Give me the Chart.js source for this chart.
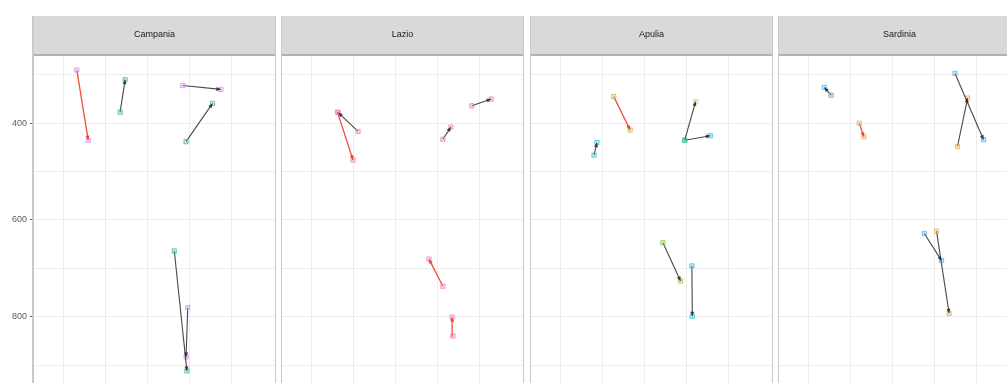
<!DOCTYPE html>
<html>
<head>
<meta charset="utf-8">
<script src="https://cdn.jsdelivr.net/npm/chart.js@4/dist/chart.umd.min.js"></script>
<style>
  html, body { margin: 0; padding: 0; background: #fff; width: 1007px; height: 383px; overflow: hidden; }
  canvas { position: absolute; top: 0; }
</style>
</head>
<body>
<script>
// Facet labels
const regions = ['Campania', 'Lazio', 'Apulia', 'Sardinia'];

// Axis breaks
const yTickLabels = [400, 600, 800];
const yGridValues = [300, 400, 500, 600, 700, 800, 900];
const xGridValues = [1, 2, 3, 4, 5];

// Segment start / end coordinates, one row per facet
const fromX = [
  [1.33, 2.36, 3.85, 3.93, 3.65, 3.97],
  [1.63, 2.12, 4.14, 4.83, 4.14, 4.38],
  [2.28, 1.81, 3.97, 3.97, 3.45, 4.14],
  [1.55, 2.22, 4.50, 4.56, 3.77, 4.06]
];
const fromY = [
  [290, 377, 322, 438, 664, 781],
  [377, 417, 433, 364, 737, 840],
  [345, 466, 435, 435, 647, 695],
  [342, 400, 297, 448, 628, 623]
];
const toX = [
  [1.60, 2.48, 4.76, 4.56, 3.95, 3.93],
  [2.00, 1.65, 4.33, 5.29, 3.81, 4.36],
  [2.67, 1.88, 4.23, 4.58, 3.87, 4.15],
  [1.39, 2.33, 5.18, 4.80, 4.18, 4.36]
];
const toY = [
  [435, 310, 330, 359, 912, 883],
  [476, 378, 408, 350, 681, 801],
  [414, 440, 355, 426, 726, 799],
  [326, 428, 434, 348, 684, 793]
];

// Marker group at each end, and the segment direction class
const startGroup = [
  ['violet', 'green', 'violet', 'green', 'green', 'violet'],
  ['pink', 'pink', 'pink', 'pink', 'pink', 'pink'],
  ['olive', 'teal', 'green', 'teal', 'lime', 'teal'],
  ['blue', 'orange', 'blue', 'orange', 'blue', 'orange']
];
const endGroup = [
  ['violet', 'green', 'violet', 'green', 'green', 'violet'],
  ['pink', 'pink', 'pink', 'pink', 'pink', 'pink'],
  ['olive', 'teal', 'yellow', 'teal', 'lime', 'teal'],
  ['blue', 'orange', 'blue', 'orange', 'blue', 'orange']
];
const segmentKind = [
  ['up', 'down', 'down', 'down', 'down', 'down'],
  ['up', 'down', 'down', 'down', 'up', 'up'],
  ['up', 'down', 'down', 'down', 'down', 'down'],
  ['down', 'up', 'down', 'down', 'down', 'down']
];

const groupColors = {
  violet: [214, 140, 235],
  green:  [70, 192, 135],
  pink:   [240, 125, 195],
  olive:  [205, 185, 70],
  yellow: [222, 210, 95],
  teal:   [60, 190, 215],
  lime:   [145, 195, 70],
  blue:   [80, 175, 238],
  orange: [232, 172, 78]
};
const kindColors = { up: 'rgba(240,62,40,0.92)', down: 'rgba(40,40,40,0.85)' };

const rgba = (c, a) => `rgba(${c[0]},${c[1]},${c[2]},${a})`;

// Layout constants
const STRIP_TOP = 16;
const PANEL_W = 243;
const PANEL_PITCH = 248.5;
const FIRST_LEFT = 33;
const GRID_OFFSET = 30;   // px from panel edge to first vertical grid line
const UNIT_PX = 42;       // px per x unit
const xMin = 1 - GRID_OFFSET / UNIT_PX;
const xMax = xMin + PANEL_W / UNIT_PX;

const stripPlugin = {
  id: 'strip',
  beforeDraw(chart) {
    const { ctx, chartArea } = chart;
    const { left, right, top } = chartArea;
    ctx.save();
    ctx.fillStyle = '#d9d9d9';
    ctx.fillRect(left, STRIP_TOP, right - left, top - STRIP_TOP);
    ctx.fillStyle = '#b2b2b2';
    ctx.fillRect(left, top - 2, right - left, 2);
    ctx.restore();
  },
  afterDraw(chart) {
    const { ctx, chartArea } = chart;
    const { left, right } = chartArea;
    ctx.save();
    ctx.fillStyle = '#c9c9c9';
    ctx.fillRect(left - 1, STRIP_TOP, 2, chart.height - STRIP_TOP);
    ctx.fillRect(right - 1, STRIP_TOP, 2, chart.height - STRIP_TOP);
    ctx.restore();
  }
};

const arrowPlugin = {
  id: 'arrows',
  afterDatasetsDraw(chart) {
    const { ctx } = chart;
    ctx.save();
    chart.data.datasets.forEach((ds, i) => {
      const pts = chart.getDatasetMeta(i).data;
      if (pts.length < 2) return;
      const a = pts[0], b = pts[1];
      const ang = Math.atan2(b.y - a.y, b.x - a.x);
      const len = 4.5, half = 2;
      ctx.fillStyle = ds.borderColor;
      ctx.beginPath();
      ctx.moveTo(b.x, b.y);
      ctx.lineTo(b.x - len * Math.cos(ang) + half * Math.sin(ang), b.y - len * Math.sin(ang) - half * Math.cos(ang));
      ctx.lineTo(b.x - len * Math.cos(ang) - half * Math.sin(ang), b.y - len * Math.sin(ang) + half * Math.cos(ang));
      ctx.closePath();
      ctx.fill();
    });
    ctx.restore();
  }
};

regions.forEach((region, r) => {
  const first = r === 0;
  const axisW = first ? FIRST_LEFT : 0;
  const panelLeft = Math.floor(FIRST_LEFT + r * PANEL_PITCH);
  const canvas = document.createElement('canvas');
  canvas.width = PANEL_W + axisW;
  canvas.height = 383;
  canvas.style.left = (panelLeft - axisW) + 'px';
  document.body.appendChild(canvas);

  const datasets = fromX[r].map((_, k) => {
    const cs = groupColors[startGroup[r][k]];
    const ce = groupColors[endGroup[r][k]];
    const kind = segmentKind[r][k];
    return {
      data: [{ x: fromX[r][k], y: fromY[r][k] }, { x: toX[r][k], y: toY[r][k] }],
      showLine: true,
      borderColor: kindColors[kind],
      borderWidth: kind === 'up' ? 1.3 : 1.1,
      pointStyle: 'rect',
      pointRadius: 3,
      pointBorderWidth: 1,
      pointBorderColor: [rgba(cs, 0.75), rgba(ce, 0.75)],
      pointBackgroundColor: [rgba(cs, 0.3), rgba(ce, 0.3)]
    };
  });

  new Chart(canvas, {
    type: 'scatter',
    data: { datasets },
    plugins: [stripPlugin, arrowPlugin],
    options: {
      responsive: false,
      animation: false,
      devicePixelRatio: 1,
      events: [],
      layout: { autoPadding: false, padding: { top: STRIP_TOP, left: 0, right: 0, bottom: 0 } },
      plugins: {
        legend: { display: false },
        tooltip: { enabled: false },
        title: {
          display: true,
          text: region,
          fullSize: false,
          color: '#1a1a1a',
          font: { family: '"Liberation Sans", Arial, sans-serif', size: 9, weight: 'normal', lineHeight: 1.2 },
          padding: { top: 13.6, bottom: 15.6 }
        }
      },
      scales: {
        x: {
          type: 'linear',
          min: xMin,
          max: xMax,
          afterBuildTicks: s => { s.ticks = xGridValues.map(v => ({ value: v })); },
          afterFit: s => { s.height = 0; s.paddingLeft = 0; s.paddingRight = 0; },
          ticks: { display: false },
          grid: { color: '#ededed', lineWidth: 1, drawTicks: false },
          border: { display: false }
        },
        y: {
          type: 'linear',
          reverse: true,
          min: 261,
          max: 937,
          afterBuildTicks: s => { s.ticks = yGridValues.map(v => ({ value: v })); },
          afterFit: s => { s.width = axisW; s.paddingTop = 0; s.paddingBottom = 0; },
          ticks: {
            display: first,
            padding: 3,
            color: '#5c5c5c',
            font: { family: '"Liberation Sans", Arial, sans-serif', size: 9 },
            callback: v => (yTickLabels.includes(v) ? String(v) : '')
          },
          grid: {
            color: '#ededed',
            lineWidth: 1,
            drawTicks: first,
            tickLength: 3,
            tickColor: c => (c.tick && yTickLabels.includes(c.tick.value) ? '#5c5c5c' : 'rgba(0,0,0,0)')
          },
          border: { display: false }
        }
      }
    }
  });
});
</script>
</body>
</html>
